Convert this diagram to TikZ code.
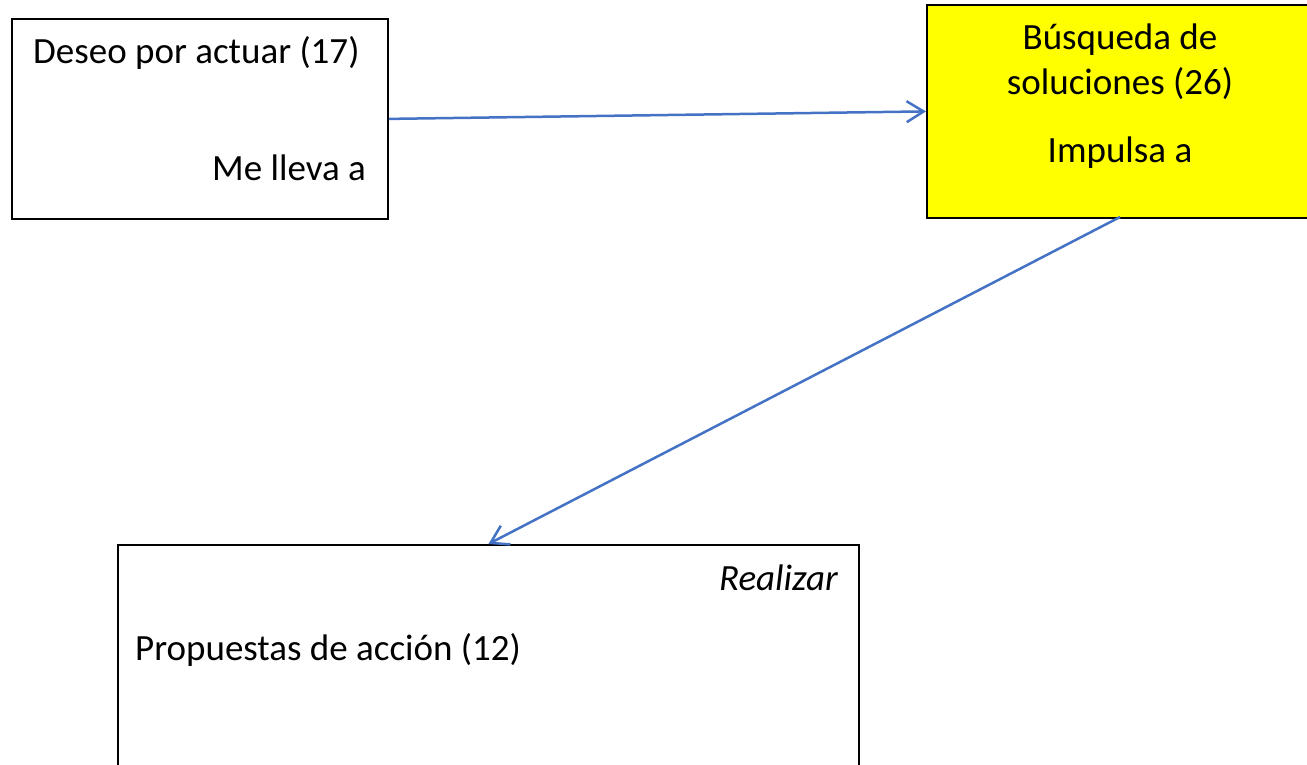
\documentclass[tikz,border=0pt]{standalone}
\usepackage{fontspec}
\setmainfont{Carlito}
\usetikzlibrary{arrows.meta}
\definecolor{arrblue}{RGB}{68,114,196}
\definecolor{boxyellow}{RGB}{255,255,0}
\tikzset{
  box/.style={draw=black, line width=1.8pt, rectangle, inner sep=0pt, anchor=north west},
  txt/.style={inner sep=0pt, font=\fontsize{37}{44}\selectfont},
  arr/.style={draw=arrblue, line width=2.5pt, -{Straight Barb[length=17pt,width=21pt,line width=2.5pt]}}
}
\begin{document}
\begin{tikzpicture}[x=1pt,y=1pt]
\useasboundingbox (0,0) rectangle (1307,-765);
\clip (0,0) rectangle (1307,-765);
\node[box, minimum width=376pt, minimum height=200pt] (b1) at (11,-18) {};
\node[box, fill=boxyellow, minimum width=394pt, minimum height=213pt] (b2) at (926,-4) {};
\node[box, minimum width=741pt, minimum height=240pt] (b3) at (117,-544) {};
\node[txt, anchor=west] (t1) at (33,-53) {Deseo por actuar (17)};
\node[txt, anchor=east] (t2) at (366,-168) {Me lleva a};
\node[txt, anchor=center] (t3) at (1120,-40) {Búsqueda de};
\node[txt, anchor=center] (t4) at (1120,-84) {soluciones (26)};
\node[txt, anchor=center] (t5) at (1120,-153) {Impulsa a};
\node[txt, anchor=east, font=\fontsize{37}{44}\selectfont\itshape] (t6) at (838,-578) {Realizar};
\node[txt, anchor=west] (t7) at (135,-650) {Propuestas de acción (12)};
\coordinate (s2) at (1120,-217);
\draw[arr] (b1.east) -- (b2.west);
\draw[arr] (s2) -- (b3.north);
\end{tikzpicture}
\end{document}
